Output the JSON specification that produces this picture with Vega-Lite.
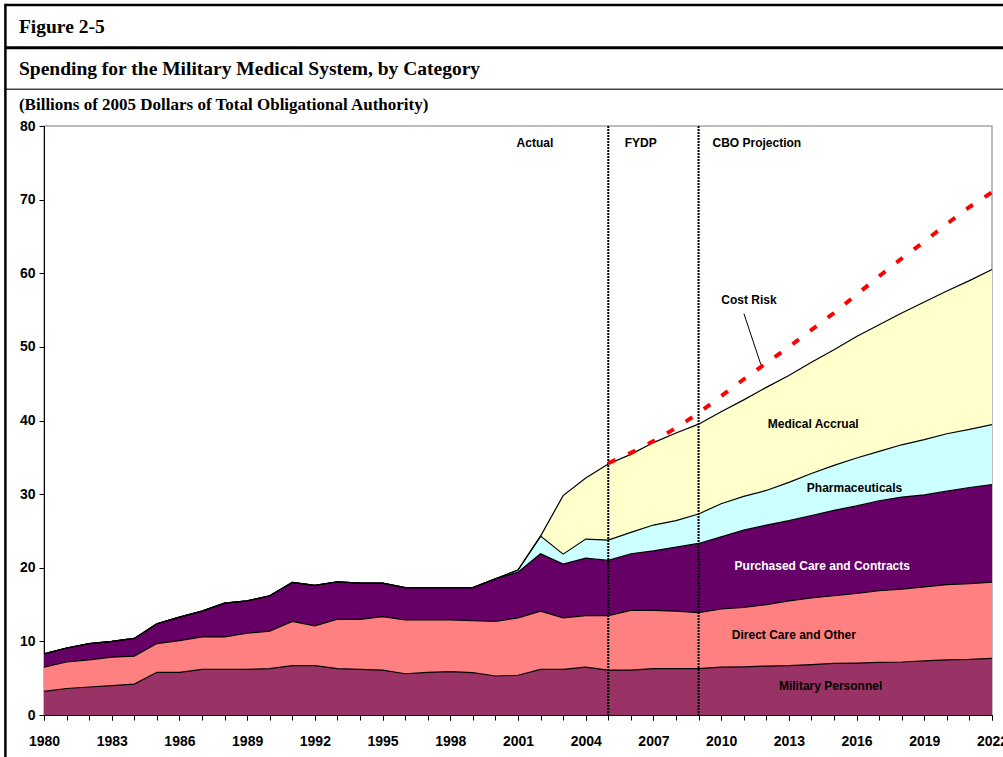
{
  "$schema": "https://vega.github.io/schema/vega-lite/v6.json",
  "width": 948,
  "height": 589,
  "autosize": {"type": "none"},
  "padding": {"left": 44, "top": 126, "right": 11, "bottom": 42},
  "background": "white",
  "resolve": {"axis": {"x": "independent"}},
  "config": {
    "font": "Liberation Sans",
    "view": {"stroke": "#a6a6a6", "strokeWidth": 1.5},
    "axis": {
      "grid": false,
      "domainColor": "black",
      "domainWidth": 1,
      "tickColor": "black",
      "tickSize": 5,
      "labelFont": "Liberation Sans",
      "labelFontWeight": "bold",
      "labelFontSize": 14,
      "labelColor": "black"
    }
  },
  "datasets": {
    "spending": [
      {"year": 1980, "Military Personnel": 3.2, "Direct Care and Other": 3.3, "Purchased Care and Contracts": 1.8, "Pharmaceuticals": 0, "Medical Accrual": 0},
      {"year": 1981, "Military Personnel": 3.6, "Direct Care and Other": 3.6, "Purchased Care and Contracts": 1.9, "Pharmaceuticals": 0, "Medical Accrual": 0},
      {"year": 1982, "Military Personnel": 3.8, "Direct Care and Other": 3.7, "Purchased Care and Contracts": 2.2, "Pharmaceuticals": 0, "Medical Accrual": 0},
      {"year": 1983, "Military Personnel": 4.0, "Direct Care and Other": 3.85, "Purchased Care and Contracts": 2.15, "Pharmaceuticals": 0, "Medical Accrual": 0},
      {"year": 1984, "Military Personnel": 4.2, "Direct Care and Other": 3.8, "Purchased Care and Contracts": 2.4, "Pharmaceuticals": 0, "Medical Accrual": 0},
      {"year": 1985, "Military Personnel": 5.8, "Direct Care and Other": 3.9, "Purchased Care and Contracts": 2.7, "Pharmaceuticals": 0, "Medical Accrual": 0},
      {"year": 1986, "Military Personnel": 5.8, "Direct Care and Other": 4.3, "Purchased Care and Contracts": 3.2, "Pharmaceuticals": 0, "Medical Accrual": 0},
      {"year": 1987, "Military Personnel": 6.2, "Direct Care and Other": 4.4, "Purchased Care and Contracts": 3.5, "Pharmaceuticals": 0, "Medical Accrual": 0},
      {"year": 1988, "Military Personnel": 6.2, "Direct Care and Other": 4.4, "Purchased Care and Contracts": 4.6, "Pharmaceuticals": 0, "Medical Accrual": 0},
      {"year": 1989, "Military Personnel": 6.2, "Direct Care and Other": 4.9, "Purchased Care and Contracts": 4.4, "Pharmaceuticals": 0, "Medical Accrual": 0},
      {"year": 1990, "Military Personnel": 6.3, "Direct Care and Other": 5.1, "Purchased Care and Contracts": 4.8, "Pharmaceuticals": 0, "Medical Accrual": 0},
      {"year": 1991, "Military Personnel": 6.7, "Direct Care and Other": 6.0, "Purchased Care and Contracts": 5.3, "Pharmaceuticals": 0, "Medical Accrual": 0},
      {"year": 1992, "Military Personnel": 6.7, "Direct Care and Other": 5.4, "Purchased Care and Contracts": 5.5, "Pharmaceuticals": 0, "Medical Accrual": 0},
      {"year": 1993, "Military Personnel": 6.3, "Direct Care and Other": 6.7, "Purchased Care and Contracts": 5.1, "Pharmaceuticals": 0, "Medical Accrual": 0},
      {"year": 1994, "Military Personnel": 6.2, "Direct Care and Other": 6.8, "Purchased Care and Contracts": 4.9, "Pharmaceuticals": 0, "Medical Accrual": 0},
      {"year": 1995, "Military Personnel": 6.1, "Direct Care and Other": 7.25, "Purchased Care and Contracts": 4.55, "Pharmaceuticals": 0, "Medical Accrual": 0},
      {"year": 1996, "Military Personnel": 5.6, "Direct Care and Other": 7.3, "Purchased Care and Contracts": 4.4, "Pharmaceuticals": 0, "Medical Accrual": 0},
      {"year": 1997, "Military Personnel": 5.8, "Direct Care and Other": 7.1, "Purchased Care and Contracts": 4.4, "Pharmaceuticals": 0, "Medical Accrual": 0},
      {"year": 1998, "Military Personnel": 5.9, "Direct Care and Other": 7.0, "Purchased Care and Contracts": 4.4, "Pharmaceuticals": 0, "Medical Accrual": 0},
      {"year": 1999, "Military Personnel": 5.75, "Direct Care and Other": 7.05, "Purchased Care and Contracts": 4.5, "Pharmaceuticals": 0, "Medical Accrual": 0},
      {"year": 2000, "Military Personnel": 5.3, "Direct Care and Other": 7.4, "Purchased Care and Contracts": 5.8, "Pharmaceuticals": 0, "Medical Accrual": 0},
      {"year": 2001, "Military Personnel": 5.4, "Direct Care and Other": 7.8, "Purchased Care and Contracts": 6.2, "Pharmaceuticals": 0.3, "Medical Accrual": 0},
      {"year": 2002, "Military Personnel": 6.2, "Direct Care and Other": 7.9, "Purchased Care and Contracts": 7.8, "Pharmaceuticals": 2.4, "Medical Accrual": 0},
      {"year": 2003, "Military Personnel": 6.2, "Direct Care and Other": 7.0, "Purchased Care and Contracts": 7.3, "Pharmaceuticals": 1.35, "Medical Accrual": 7.95},
      {"year": 2004, "Military Personnel": 6.5, "Direct Care and Other": 7.0, "Purchased Care and Contracts": 7.8, "Pharmaceuticals": 2.6, "Medical Accrual": 8.3},
      {"year": 2005, "Military Personnel": 6.1, "Direct Care and Other": 7.4, "Purchased Care and Contracts": 7.5, "Pharmaceuticals": 2.75, "Medical Accrual": 10.35},
      {"year": 2006, "Military Personnel": 6.1, "Direct Care and Other": 8.1, "Purchased Care and Contracts": 7.7, "Pharmaceuticals": 2.9, "Medical Accrual": 10.6},
      {"year": 2007, "Military Personnel": 6.3, "Direct Care and Other": 7.9, "Purchased Care and Contracts": 8.1, "Pharmaceuticals": 3.5, "Medical Accrual": 11.2},
      {"year": 2008, "Military Personnel": 6.3, "Direct Care and Other": 7.8, "Purchased Care and Contracts": 8.7, "Pharmaceuticals": 3.6, "Medical Accrual": 11.9},
      {"year": 2009, "Military Personnel": 6.3, "Direct Care and Other": 7.6, "Purchased Care and Contracts": 9.4, "Pharmaceuticals": 4.0, "Medical Accrual": 12.2},
      {"year": 2010, "Military Personnel": 6.5, "Direct Care and Other": 7.9, "Purchased Care and Contracts": 9.8, "Pharmaceuticals": 4.5, "Medical Accrual": 12.5},
      {"year": 2011, "Military Personnel": 6.55, "Direct Care and Other": 8.05, "Purchased Care and Contracts": 10.5, "Pharmaceuticals": 4.6, "Medical Accrual": 13.1},
      {"year": 2012, "Military Personnel": 6.65, "Direct Care and Other": 8.35, "Purchased Care and Contracts": 10.8, "Pharmaceuticals": 4.7, "Medical Accrual": 14.0},
      {"year": 2013, "Military Personnel": 6.7, "Direct Care and Other": 8.8, "Purchased Care and Contracts": 10.9, "Pharmaceuticals": 5.2, "Medical Accrual": 14.5},
      {"year": 2014, "Military Personnel": 6.85, "Direct Care and Other": 9.05, "Purchased Care and Contracts": 11.2, "Pharmaceuticals": 5.7, "Medical Accrual": 15.1},
      {"year": 2015, "Military Personnel": 7.0, "Direct Care and Other": 9.2, "Purchased Care and Contracts": 11.6, "Pharmaceuticals": 6.1, "Medical Accrual": 15.7},
      {"year": 2016, "Military Personnel": 7.05, "Direct Care and Other": 9.45, "Purchased Care and Contracts": 11.9, "Pharmaceuticals": 6.5, "Medical Accrual": 16.5},
      {"year": 2017, "Military Personnel": 7.15, "Direct Care and Other": 9.75, "Purchased Care and Contracts": 12.2, "Pharmaceuticals": 6.7, "Medical Accrual": 17.2},
      {"year": 2018, "Military Personnel": 7.2, "Direct Care and Other": 9.9, "Purchased Care and Contracts": 12.5, "Pharmaceuticals": 7.1, "Medical Accrual": 17.9},
      {"year": 2019, "Military Personnel": 7.35, "Direct Care and Other": 10.05, "Purchased Care and Contracts": 12.5, "Pharmaceuticals": 7.5, "Medical Accrual": 18.7},
      {"year": 2020, "Military Personnel": 7.5, "Direct Care and Other": 10.2, "Purchased Care and Contracts": 12.7, "Pharmaceuticals": 7.8, "Medical Accrual": 19.4},
      {"year": 2021, "Military Personnel": 7.55, "Direct Care and Other": 10.3, "Purchased Care and Contracts": 13.05, "Pharmaceuticals": 7.9, "Medical Accrual": 20.2},
      {"year": 2022, "Military Personnel": 7.7, "Direct Care and Other": 10.35, "Purchased Care and Contracts": 13.25, "Pharmaceuticals": 8.15, "Medical Accrual": 21.05}
    ],
    "categories": [
      {"category": "Military Personnel", "rank": 1},
      {"category": "Direct Care and Other", "rank": 2},
      {"category": "Purchased Care and Contracts", "rank": 3},
      {"category": "Pharmaceuticals", "rank": 4},
      {"category": "Medical Accrual", "rank": 5}
    ],
    "risk": [
      {"year": 2005, "value": 34.2},
      {"year": 2006, "value": 35.6},
      {"year": 2007, "value": 37.2},
      {"year": 2008, "value": 39.0},
      {"year": 2009, "value": 41.0},
      {"year": 2010, "value": 43.3},
      {"year": 2011, "value": 45.6},
      {"year": 2012, "value": 47.8},
      {"year": 2013, "value": 50.0},
      {"year": 2014, "value": 52.3},
      {"year": 2015, "value": 54.6},
      {"year": 2016, "value": 57.1},
      {"year": 2017, "value": 59.6},
      {"year": 2018, "value": 62.0},
      {"year": 2019, "value": 64.3},
      {"year": 2020, "value": 66.7},
      {"year": 2021, "value": 69.0},
      {"year": 2022, "value": 71.0}
    ],
    "phases": [{"year": 2005}, {"year": 2009}],
    "phaseLabels": [
      {"label": "Actual", "year": 2001.75},
      {"label": "FYDP", "year": 2006.44},
      {"label": "CBO Projection", "year": 2011.58}
    ],
    "areaLabels": [
      {"label": "Cost Risk", "year": 2011.23, "value": 56.4},
      {"label": "Medical Accrual", "year": 2014.08, "value": 39.5},
      {"label": "Pharmaceuticals", "year": 2015.91, "value": 30.8},
      {"label": "Purchased Care and Contracts", "year": 2014.48, "value": 20.3},
      {"label": "Direct Care and Other", "year": 2013.22, "value": 10.9},
      {"label": "Military Personnel", "year": 2014.85, "value": 4.0}
    ],
    "header": [
      {"text": "Figure 2-5", "year": 1978.89, "value": 92.63, "role": "title"},
      {"text": "Spending for the Military Medical System, by Category", "year": 1978.89, "value": 86.93, "role": "title"},
      {"text": "(Billions of 2005 Dollars of Total Obligational Authority)", "year": 1978.89, "value": 82.17, "role": "subtitle"}
    ]
  },
  "layer": [
    {
      "data": {"name": "spending"},
      "transform": [
        {"fold": ["Military Personnel", "Direct Care and Other", "Purchased Care and Contracts", "Pharmaceuticals", "Medical Accrual"], "as": ["category", "value"]},
        {"lookup": "category", "from": {"data": {"name": "categories"}, "key": "category", "fields": ["rank"]}},
        {"stack": "value", "groupby": ["year"], "sort": [{"field": "rank", "order": "ascending"}], "as": ["v0", "v1"]}
      ],
      "mark": {"type": "area", "strokeWidth": 0},
      "encoding": {
        "x": {
          "field": "year", "type": "quantitative", "title": null,
          "scale": {"domain": [1980, 2022], "nice": false, "zero": false},
          "axis": {
            "orient": "bottom",
            "values": [1980,1983,1986,1989,1992,1995,1998,2001,2004,2007,2010,2013,2016,2019,2022],
            "format": "d",
            "labelPadding": 14,
            "labelOverlap": false,
            "labelFlush": false
          }
        },
        "y": {
          "field": "v1", "type": "quantitative", "title": null,
          "scale": {"domain": [0, 80], "nice": false},
          "axis": {"values": [0, 10, 20, 30, 40, 50, 60, 70, 80], "labelPadding": 4}
        },
        "y2": {"field": "v0"},
        "color": {
          "field": "category", "type": "nominal", "legend": null,
          "scale": {
            "domain": ["Military Personnel", "Direct Care and Other", "Purchased Care and Contracts", "Pharmaceuticals", "Medical Accrual"],
            "range": ["#993366", "#FF8080", "#660066", "#CCFFFF", "#FFFFCC"]
          }
        }
      }
    },
    {
      "data": {"name": "spending"},
      "transform": [
        {"fold": ["Military Personnel", "Direct Care and Other", "Purchased Care and Contracts", "Pharmaceuticals", "Medical Accrual"], "as": ["category", "value"]},
        {"lookup": "category", "from": {"data": {"name": "categories"}, "key": "category", "fields": ["rank"]}},
        {"stack": "value", "groupby": ["year"], "sort": [{"field": "rank", "order": "ascending"}], "as": ["v0", "v1"]}
      ],
      "mark": {"type": "line", "color": "black", "strokeWidth": 1.2},
      "encoding": {
        "x": {
          "field": "year", "type": "quantitative", "title": null,
          "axis": {
            "orient": "bottom",
            "values": [1980,1981,1982,1983,1984,1985,1986,1987,1988,1989,1990,1991,1992,1993,1994,1995,1996,1997,1998,1999,2000,2001,2002,2003,2004,2005,2006,2007,2008,2009,2010,2011,2012,2013,2014,2015,2016,2017,2018,2019,2020,2021,2022],
            "labels": false
          }
        },
        "y": {"field": "v1", "type": "quantitative", "title": null},
        "detail": {"field": "category", "type": "nominal"}
      }
    },
    {
      "data": {"name": "phases"},
      "mark": {"type": "rule", "color": "black", "strokeWidth": 2, "strokeDash": [2, 1]},
      "encoding": {
        "x": {"field": "year", "type": "quantitative", "axis": null}
      }
    },
    {
      "data": {"name": "risk"},
      "mark": {"type": "line", "color": "#FF0000", "strokeWidth": 4, "strokeDash": [8, 14], "strokeCap": "butt"},
      "encoding": {
        "x": {"field": "year", "type": "quantitative", "axis": null},
        "y": {"field": "value", "type": "quantitative", "title": null}
      }
    },
    {
      "data": {"values": [{}]},
      "mark": {"type": "rule", "color": "black", "strokeWidth": 1},
      "encoding": {
        "x": {"datum": 2011.01, "axis": null},
        "y": {"datum": 54.5},
        "x2": {"datum": 2011.76},
        "y2": {"datum": 47.6}
      }
    },
    {
      "data": {"name": "phaseLabels"},
      "mark": {"type": "text", "font": "Liberation Sans", "fontWeight": "bold", "fontSize": 12, "color": "black"},
      "encoding": {
        "x": {"field": "year", "type": "quantitative", "axis": null},
        "y": {"datum": 77.65},
        "text": {"field": "label"}
      }
    },
    {
      "data": {"name": "areaLabels"},
      "mark": {"type": "text", "font": "Liberation Sans", "fontWeight": "bold", "fontSize": 12},
      "encoding": {
        "x": {"field": "year", "type": "quantitative", "axis": null},
        "y": {"field": "value", "type": "quantitative", "title": null},
        "text": {"field": "label"},
        "color": {"condition": {"test": "datum.label == 'Purchased Care and Contracts'", "value": "white"}, "value": "black"}
      }
    },
    {
      "data": {"name": "header"},
      "mark": {"type": "text", "font": "Liberation Serif", "fontWeight": "bold", "align": "left", "baseline": "alphabetic", "color": "black", "clip": false},
      "encoding": {
        "x": {"field": "year", "type": "quantitative", "axis": null},
        "y": {"field": "value", "type": "quantitative", "title": null},
        "text": {"field": "text"},
        "size": {"field": "role", "type": "nominal", "legend": null, "scale": {"domain": ["title", "subtitle"], "range": [19.5, 17]}}
      }
    },
    {
      "data": {"values": [{}]},
      "mark": {"type": "rule", "color": "black", "strokeWidth": 2.5, "clip": false},
      "encoding": {"x": {"datum": 1978.29, "axis": null}, "x2": {"datum": 2022.6}, "y": {"datum": 96.45}}
    },
    {
      "data": {"values": [{}]},
      "mark": {"type": "rule", "color": "black", "strokeWidth": 3, "clip": false},
      "encoding": {"x": {"datum": 1978.29, "axis": null}, "x2": {"datum": 2022.6}, "y": {"datum": 90.63}}
    },
    {
      "data": {"values": [{}]},
      "mark": {"type": "rule", "color": "#444444", "strokeWidth": 1.5, "clip": false},
      "encoding": {"x": {"datum": 1978.29, "axis": null}, "x2": {"datum": 2022.6}, "y": {"datum": 85.0}}
    },
    {
      "data": {"values": [{}]},
      "mark": {"type": "rule", "color": "black", "strokeWidth": 2.5, "clip": false},
      "encoding": {"x": {"datum": 1978.29, "axis": null}, "y": {"datum": 96.6}, "y2": {"datum": -6}}
    }
  ]
}
